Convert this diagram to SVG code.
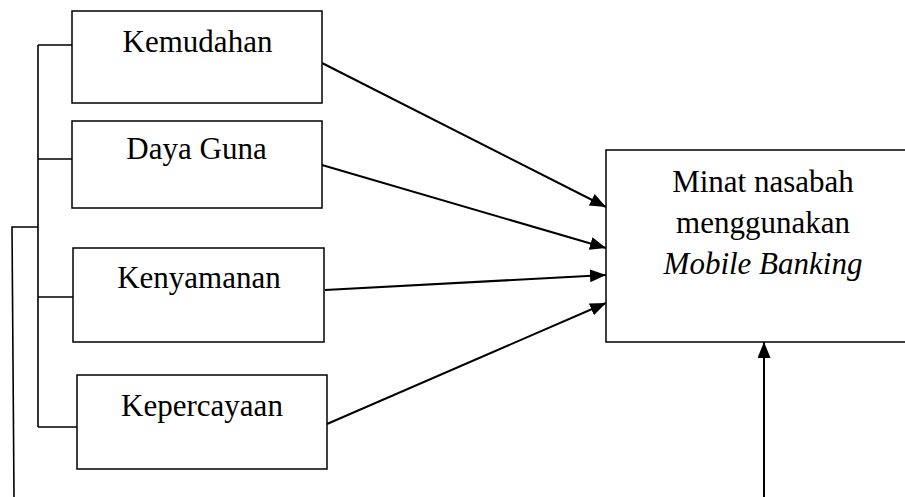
<svg xmlns="http://www.w3.org/2000/svg" width="905" height="497" viewBox="0 0 905 497">
<style>
.box{fill:#fff;stroke:#000;stroke-width:1.5}
.ln{fill:none;stroke:#000;stroke-width:1.6}
.ar{fill:none;stroke:#000;stroke-width:2;marker-end:url(#ah)}
text{font-family:"Liberation Serif","Times New Roman",serif;font-size:31px;fill:#000;text-anchor:middle}
</style>
<defs>
<marker id="ah" markerUnits="userSpaceOnUse" markerWidth="17" markerHeight="14" refX="16" refY="6.5" orient="auto">
<path d="M0,0 L16,6.5 L0,13 z" fill="#000"/>
</marker>
</defs>
<rect width="905" height="497" fill="#fff"/>
<g id="connectors">
<path class="ln" d="M38,45 L38,427"/>
<path class="ln" d="M38,45 L72,45 M38,159 L72,159 M38,297 L73,297 M38,427 L77,427"/>
<path class="ln" d="M38,227 L12,227 L14,497"/>
<line class="ar" x1="322" y1="63" x2="606" y2="207"/>
<line class="ar" x1="322" y1="165" x2="606" y2="248"/>
<line class="ar" x1="325" y1="290" x2="606" y2="275"/>
<line class="ar" x1="327" y1="424" x2="606" y2="303"/>
<line class="ar" x1="764" y1="497" x2="764" y2="342"/>
</g>
<g id="kemudahan">
<rect class="box" x="72" y="11" width="250" height="92"/>
<text x="197.5" y="52">Kemudahan</text>
</g>
<g id="dayaguna">
<rect class="box" x="72" y="121" width="250" height="87"/>
<text x="196.5" y="159">Daya Guna</text>
</g>
<g id="kenyamanan">
<rect class="box" x="73" y="248" width="251" height="94"/>
<text x="199" y="288">Kenyamanan</text>
</g>
<g id="kepercayaan">
<rect class="box" x="77" y="375" width="250" height="94"/>
<text x="202" y="416">Kepercayaan</text>
</g>
<g id="minat">
<rect class="box" x="606" y="150" width="305" height="192"/>
<text x="763" y="192">Minat nasabah</text>
<text x="763" y="233">menggunakan</text>
<text x="763" y="274" font-style="italic">Mobile Banking</text>
</g>
</svg>
